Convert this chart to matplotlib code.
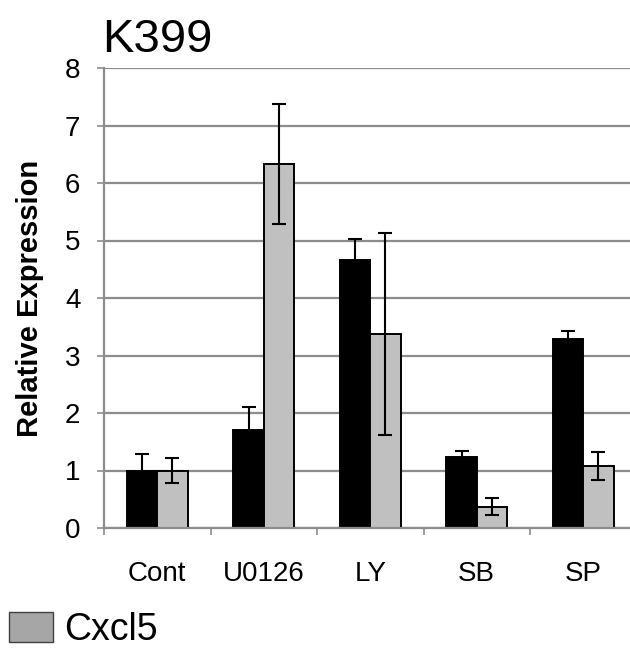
import numpy as np
import matplotlib.pyplot as plt
from matplotlib.patches import Patch

plt.rcParams['font.family'] = ['Liberation Sans', 'DejaVu Sans']

# data
groups = ['Cont', 'U0126', 'LY', 'SB', 'SP']
cxcl1 = [1.00, 1.70, 4.66, 1.24, 3.28]
cxcl1_err = [0.28, 0.41, 0.36, 0.10, 0.15]
cxcl5 = [1.00, 6.33, 3.37, 0.37, 1.08]
cxcl5_err = [0.22, 1.04, 1.76, 0.145, 0.24]

x = np.arange(len(groups))
w = 0.285

fig = plt.figure(figsize=(6.3, 6.5), dpi=100)
ax = fig.add_axes([104/630, 122/650, 532.5/630, 460/650])

grid_col = '#8c8c8c'
ax.set_axisbelow(True)
ax.yaxis.grid(True, color=grid_col, lw=1.6)

err_kw = dict(ecolor='black', elinewidth=1.5, capsize=4.8, capthick=1.5)
ax.bar(x - w/2, cxcl1, w, yerr=cxcl1_err, color='black', edgecolor='black',
       lw=1.4, error_kw=err_kw, label='Cxcl1')
ax.bar(x + w/2, cxcl5, w, yerr=cxcl5_err, color='#c0c0c0', edgecolor='black',
       lw=1.4, error_kw=err_kw, label='Cxcl5')

ax.set_xlim(-0.5, len(groups) - 0.5)
ax.set_ylim(0, 8)
ax.set_yticks(range(0, 9))
ax.tick_params(axis='y', length=5, width=1.2, color=grid_col, pad=12, labelsize=20)

ax.set_xticks(np.arange(-0.5, len(groups), 1.0))
ax.set_xticklabels([])
ax.tick_params(axis='x', which='major', length=5, width=1.2, color=grid_col)
ax.set_xticks(x, minor=True)
ax.set_xticklabels(groups, minor=True)
ax.tick_params(axis='x', which='minor', length=0, pad=24, labelsize=20)

for s in ['top', 'right']:
    ax.spines[s].set_visible(False)
for s in ['left', 'bottom']:
    ax.spines[s].set_color(grid_col)
    ax.spines[s].set_linewidth(1.6)

fig.text(102/630, 1 - 52/650, 'K399', fontsize=34, va='baseline', ha='left')
fig.text(30/630, 1 - 298/650, 'Relative Expression', fontsize=21,
         fontweight='bold', rotation=90, ha='center', va='center')

fig.legend(handles=[Patch(facecolor='#a6a6a6', edgecolor='#404040', lw=1.0)],
           labels=['Cxcl5'], loc='lower left', bbox_to_anchor=(9/630, 2/650),
           frameon=False, fontsize=27, borderpad=0, borderaxespad=0,
           handlelength=1.17, handleheight=0.85, handletextpad=0.3)

fig.savefig('out.png', dpi=100)
